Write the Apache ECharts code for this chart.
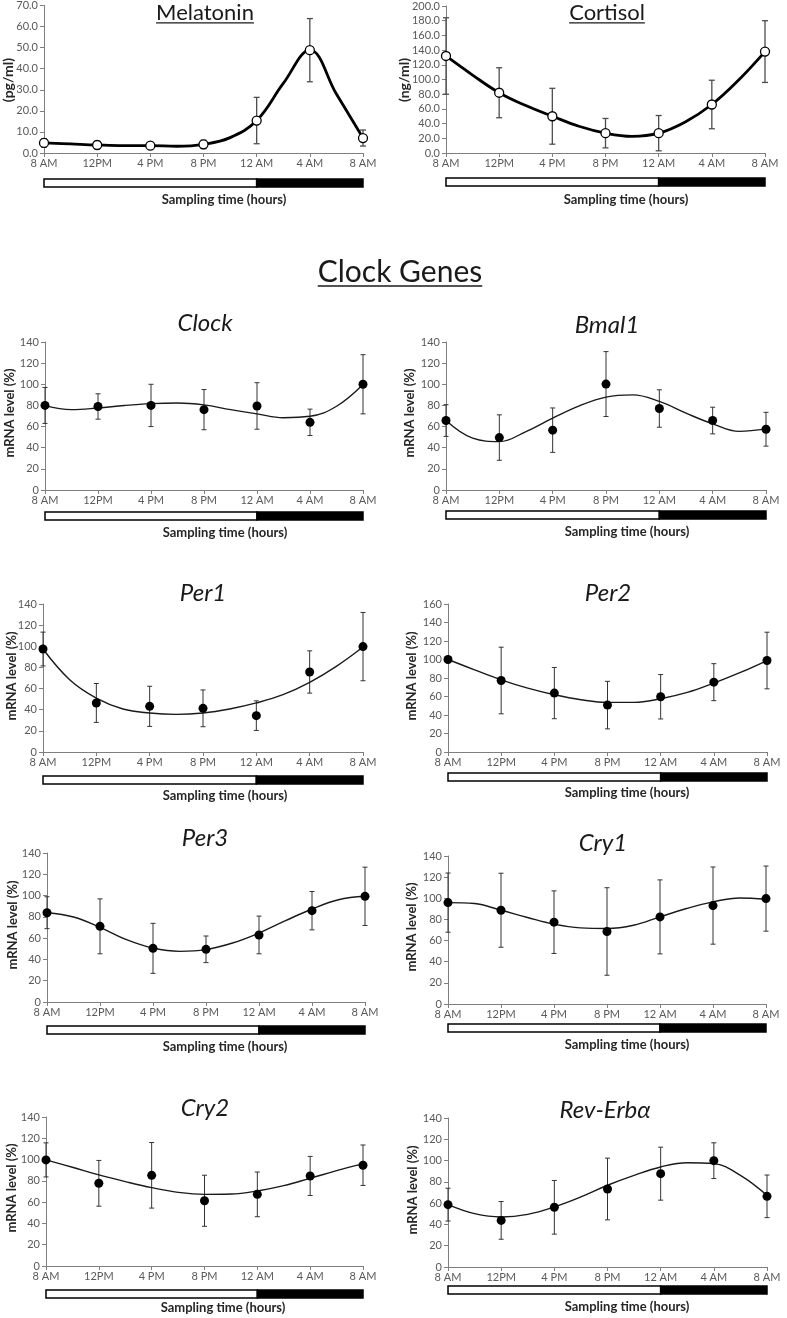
<!DOCTYPE html>
<html><head><meta charset="utf-8">
<script src="https://cdn.jsdelivr.net/npm/echarts@6/dist/echarts.min.js"></script>
<style>html,body{margin:0;padding:0;background:#fff}#c{width:787px;height:1318px}</style>
</head><body><div id="c"></div>
<script>
// ---------- data ----------
const hours = [0, 4, 8, 12, 16, 20, 24];
const fitHours = [0, 2, 4, 6, 8, 10, 12, 14, 16, 18, 20, 22, 24];
const timeLabels = ['8 AM', '12PM', '4 PM', '8 PM', '12 AM', '4 AM', '8 AM'];
const lightDark = [[0, 16, 0], [16, 24, 1]];

const melatoninMean  = [4.8, 3.8, 3.5, 4.1, 15.4, 48.8, 7.1];
const melatoninErr   = [2.0, 1.8, 1.5, 2.0, 11.0, 15.0, 3.8];
const melatoninCurve = [4.8, 4.3, 3.8, 3.5, 3.5, 3.2, 4.1, 7.3, 15.4, 33, 48.8, 28, 7.1];
const cortisolMean   = [132, 82, 50, 27, 27, 66, 138];
const cortisolErr    = [52, 34, 38, 20, 24, 33, 42];
const cortisolCurve  = [132, 106, 82, 64.5, 50, 36.4, 27, 22.7, 27, 42.3, 66, 99, 138];

const clockMean = [80, 79, 80, 76, 79.5, 64, 100];
const clockErr  = [17, 12, 20, 19, 22, 12.5, 28];
const clockFit  = [79.8, 76, 77.6, 80, 81.7, 82.3, 80.5, 76, 72, 68.4, 69.7, 79.2, 99.8];

const bmal1Mean = [65.7, 49.6, 56.6, 100.2, 77.1, 65.7, 57.5];
const bmal1Err  = [15, 21.5, 21, 30.7, 17.7, 12.6, 16];
const bmal1Fit  = [65.7, 49, 45.8, 55.3, 68, 79.6, 87.9, 90, 83.8, 72.7, 62.6, 55.5, 57.8];

const per1Mean = [97.4, 46.4, 43.2, 41.3, 34.4, 75.7, 99.7];
const per1Err  = [16, 18.4, 19, 17.4, 14, 20, 32.3];
const per1Fit  = [97.4, 68.4, 51, 40.7, 36.9, 35.6, 36.9, 40.7, 46.4, 54.2, 65.9, 81, 99.3];

const per2Mean = [100, 77.3, 63.7, 50.7, 59.7, 75.5, 98.9];
const per2Err  = [null, 36, 27.7, 25.7, 24, 20, 30.6];
const per2Fit  = [100, 88.8, 78, 69, 61.9, 56.5, 53.6, 53.6, 57.6, 64.4, 74.5, 86, 98.9];

const per3Mean = [83.9, 71.1, 50.4, 49.5, 63, 85.8, 99.3];
const per3Err  = [15, 25.8, 23.5, 12.5, 17.7, 18, 27.4];
const per3Fit  = [83.9, 79.9, 70.2, 58.6, 50.7, 47.6, 49.2, 55.4, 64.8, 76.4, 87.4, 96.1, 99.3];

const cry1Mean = [95.9, 88.7, 77.4, 68.6, 82.4, 93.1, 99.7];
const cry1Err  = [28, 35, 29.6, 41.4, 35, 36.5, 30.8];
const cry1Fit  = [95.9, 95, 88.7, 81.8, 75.5, 72, 71.4, 74.5, 82.4, 90.3, 96.6, 100.3, 99.1];

const cry2Mean = [99.7, 77.7, 85.2, 61.3, 67.3, 84.6, 94.7];
const cry2Err  = [16, 21.5, 30.8, 24, 21, 18.4, 19];
const cry2Fit  = [99.7, 92.8, 85.6, 79.3, 73.6, 69.2, 67.3, 67.6, 70.5, 75.5, 82.4, 89.6, 95.9];

const revMean = [58.6, 43.8, 56.1, 73.3, 87.7, 99.9, 66.4];
const revErr  = [15.4, 17.7, 25.2, 29, 24.9, 16.8, 20];
const revFit  = [58.6, 50.1, 47, 49.5, 56.4, 65.8, 76.8, 86.1, 94, 98, 97.1, 86.1, 67.3];

// ---------- layout ----------
const F = 'Lato, "Open Sans", sans-serif';
const panels = [
  {title:'Melatonin', mean:melatoninMean, err:melatoninErr, fit:melatoninCurve, hollow:true, yMax:70, yInt:10, dec:1, yName:'(pg/ml)', grid:[44,5,319,148], bar:179, t:[205,13], ts:22, it:false, ul:true, yn:[8,80], yns:14, s:[224,200]},
  {title:'Cortisol', mean:cortisolMean, err:cortisolErr, fit:cortisolCurve, hollow:true, yMax:200, yInt:20, dec:1, yName:'(ng/ml)', grid:[446,6,319,147], bar:178, t:[607,13], ts:22, it:false, ul:true, yn:[404,80], yns:14, s:[626,200]},
  {title:'Clock', mean:clockMean, err:clockErr, fit:clockFit, yMax:140, yInt:20, dec:0, yName:'mRNA level (%)', grid:[45,342,318,148], bar:512, t:[205,323], ts:24, it:true, yn:[10,413], yns:13, s:[225,533]},
  {title:'Bmal1', mean:bmal1Mean, err:bmal1Err, fit:bmal1Fit, yMax:140, yInt:20, dec:0, yName:'mRNA level (%)', grid:[446,342,320,148], bar:511, t:[607,325], ts:24, it:true, yn:[410,413], yns:13, s:[627,532]},
  {title:'Per1', mean:per1Mean, err:per1Err, fit:per1Fit, yMax:140, yInt:20, dec:0, yName:'mRNA level (%)', grid:[43,604,320,148], bar:776, t:[203,593], ts:24, it:true, yn:[12,676], yns:13, s:[225,796]},
  {title:'Per2', mean:per2Mean, err:per2Err, fit:per2Fit, yMax:160, yInt:20, dec:0, yName:'mRNA level (%)', grid:[448,604,319,148], bar:773, t:[608,593], ts:24, it:true, yn:[412,676], yns:13, s:[627,793]},
  {title:'Per3', mean:per3Mean, err:per3Err, fit:per3Fit, yMax:140, yInt:20, dec:0, yName:'mRNA level (%)', grid:[47,853,318,149], bar:1026, t:[205,838], ts:24, it:true, yn:[13,925], yns:13, s:[225,1047]},
  {title:'Cry1', mean:cry1Mean, err:cry1Err, fit:cry1Fit, yMax:140, yInt:20, dec:0, yName:'mRNA level (%)', grid:[448,856,318,148], bar:1024, t:[603,843], ts:24, it:true, yn:[412,927], yns:13, s:[627,1045]},
  {title:'Cry2', mean:cry2Mean, err:cry2Err, fit:cry2Fit, yMax:140, yInt:20, dec:0, yName:'mRNA level (%)', grid:[46,1117,317,149], bar:1290, t:[205,1108], ts:24, it:true, yn:[12,1188], yns:13, s:[223,1308]},
  {title:'Rev-Erbα', mean:revMean, err:revErr, fit:revFit, yMax:140, yInt:20, dec:0, yName:'mRNA level (%)', grid:[448,1118,319,149], bar:1286, t:[605,1110], ts:24, it:true, yn:[413,1190], yns:13, s:[627,1307]}
];

const measureCtx = document.createElement('canvas').getContext('2d');
function textW(txt, font){ measureCtx.font = font; return measureCtx.measureText(txt).width; }

const AX = '#7f7f7f', LBL = '#595959';
const grids = [], xAxes = [], yAxes = [], series = [], graphics = [];

function errRender(capW, color, lw){
  return function(params, api){
    const x = api.value(0), lo = api.value(1), hi = api.value(2);
    if (isNaN(lo) || isNaN(hi)) return null;
    const a = api.coord([x, lo]), b = api.coord([x, hi]), h = capW / 2;
    const st = {stroke: color, lineWidth: lw};
    return {type:'group', children:[
      {type:'line', shape:{x1:a[0], y1:a[1], x2:b[0], y2:b[1]}, style:st},
      {type:'line', shape:{x1:a[0]-h, y1:a[1], x2:a[0]+h, y2:a[1]}, style:st},
      {type:'line', shape:{x1:b[0]-h, y1:b[1], x2:b[0]+h, y2:b[1]}, style:st}
    ]};
  };
}
function barRender(params, api){
  const a = api.coord([api.value(0), 1]), b = api.coord([api.value(1), 0]);
  return {type:'rect', shape:{x:a[0], y:a[1], width:b[0]-a[0], height:b[1]-a[1]},
    style:{fill: api.value(2) ? '#000' : '#fff', stroke:'#000', lineWidth:1.5}};
}

panels.forEach(p => {
  const gi = grids.length;
  grids.push({left:p.grid[0], top:p.grid[1], width:p.grid[2], height:p.grid[3]});
  xAxes.push({gridIndex:gi, type:'value', min:0, max:24, interval:4,
    axisLine:{lineStyle:{color:AX, width:1}}, axisTick:{show:true, length:4, lineStyle:{color:AX}},
    splitLine:{show:false},
    axisLabel:{margin:5, color:LBL, fontSize:11, fontFamily:F, showMinLabel:true, showMaxLabel:true,
      formatter: v => timeLabels[Math.round(v/4)]}});
  yAxes.push({gridIndex:gi, type:'value', min:0, max:p.yMax, interval:p.yInt,
    axisLine:{show:true, lineStyle:{color:AX, width:1}}, axisTick:{show:true, length:4, lineStyle:{color:AX}},
    splitLine:{show:false},
    axisLabel:{margin:6, color:LBL, fontSize:11, fontFamily:F, formatter: v => v.toFixed(p.dec)}});
  const bi = grids.length;
  grids.push({left:p.grid[0], top:p.bar, width:p.grid[2], height:8});
  xAxes.push({gridIndex:bi, type:'value', min:0, max:24, show:false});
  yAxes.push({gridIndex:bi, type:'value', min:0, max:1, show:false});
  series.push({type:'custom', xAxisIndex:bi, yAxisIndex:bi, data:lightDark, renderItem:barRender, silent:true});

  const hollow = !!p.hollow;
  series.push({type:'custom', xAxisIndex:gi, yAxisIndex:gi, z:2, silent:true,
    data: hours.map((h,k) => p.err[k] == null ? [h, NaN, NaN] : [h, p.mean[k]-p.err[k], p.mean[k]+p.err[k]]),
    renderItem: errRender(hollow ? 6 : 5, hollow ? '#4d4d4d' : '#333', hollow ? 1.3 : 1)});
  series.push({type:'line', xAxisIndex:gi, yAxisIndex:gi, z:3, smooth:0.4, showSymbol:false,
    data: fitHours.map((h,k) => [h, p.fit[k]]),
    lineStyle:{color: hollow ? '#000' : '#1a1a1a', width: hollow ? 2.8 : 1.4}});
  series.push({type:'scatter', xAxisIndex:gi, yAxisIndex:gi, z:4, symbolSize:9,
    data: hours.map((h,k) => [h, p.mean[k]]),
    itemStyle: hollow ? {color:'#fff', borderColor:'#000', borderWidth:1.3, opacity:1} : {color:'#000', opacity:1}});

  const tFont = (p.it ? 'italic ' : '') + p.ts + 'px ' + F;
  graphics.push({type:'text', x:p.t[0], y:p.t[1], style:{text:p.title, font:tFont, fill:'#1a1a1a', align:'center', verticalAlign:'middle'}});
  if (p.ul) {
    const w = textW(p.title, tFont), uy = p.t[1] + p.ts*0.45;
    graphics.push({type:'line', shape:{x1:p.t[0]-w/2, y1:uy, x2:p.t[0]+w/2, y2:uy}, style:{stroke:'#1a1a1a', lineWidth:1.3}});
  }
  graphics.push({type:'text', x:p.yn[0], y:p.yn[1], rotation:Math.PI/2,
    style:{text:p.yName, font:'bold ' + p.yns + 'px ' + F, fill:'#262626', align:'center', verticalAlign:'middle'}});
  graphics.push({type:'text', x:p.s[0], y:p.s[1],
    style:{text:'Sampling time (hours)', font:'bold 13px ' + F, fill:'#262626', align:'center', verticalAlign:'middle'}});
});

// section heading
const hFont = '30px ' + F;
graphics.push({type:'text', x:400, y:272, style:{text:'Clock Genes', font:hFont, fill:'#1a1a1a', align:'center', verticalAlign:'middle'}});
const hw = textW('Clock Genes', hFont);
graphics.push({type:'line', shape:{x1:400-hw/2, y1:286, x2:400+hw/2, y2:286}, style:{stroke:'#1a1a1a', lineWidth:1.5}});

const chart = echarts.init(document.getElementById('c'), null, {renderer:'canvas'});
chart.setOption({animation:false, backgroundColor:'#fff', grid:grids, xAxis:xAxes, yAxis:yAxes, series:series, graphic:graphics});
</script></body></html>
